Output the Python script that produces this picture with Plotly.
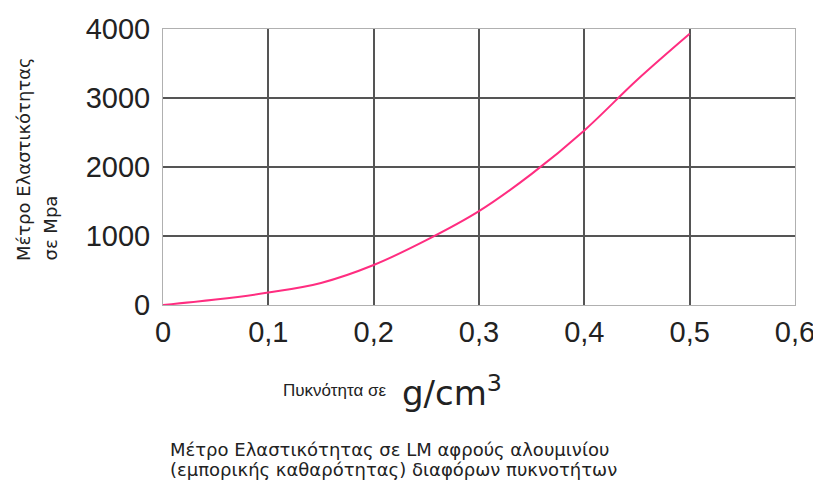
import plotly.graph_objects as go

density = [0, 0.05, 0.1, 0.15, 0.2, 0.25, 0.3, 0.35, 0.4, 0.45, 0.5]
modulus = [0, 80, 180, 320, 580, 940, 1360, 1900, 2530, 3260, 3930]

x_ticks = [0, 0.1, 0.2, 0.3, 0.4, 0.5, 0.6]
y_ticks = [0, 1000, 2000, 3000, 4000]

y_title_lines = ["Μέτρο Ελαστικότητας", "σε Mpa"]
x_title_text = "Πυκνότητα σε"
x_title_unit = "g/cm<sup>3</sup>"
caption_lines = ["Μέτρο Ελαστικότητας σε LM αφρούς αλουμινίου",
                 "(εμπορικής καθαρότητας) διαφόρων πυκνοτήτων"]

FONT = "Liberation Sans, Arial, sans-serif"
WIDE = "DejaVu Sans, sans-serif"

# The page body has an 8px margin; all reference pixel positions are shifted by it.
OFF = 8
PL, PR, PT, PB = 163, 795, 29, 305  # plot area in reference pixels
PW, PH = PR - PL, PB - PT


def px(x):
    return (x - PL) / PW


def py(y):
    return (PB - y) / PH


fig = go.Figure()
fig.add_trace(go.Scatter(
    x=density, y=modulus, mode="lines",
    line=dict(color="#ff2d80", width=2, shape="spline"),
    hoverinfo="skip", showlegend=False,
))

fig.update_layout(
    width=821 - OFF, height=486 - OFF,
    margin=dict(l=PL - OFF, r=821 - PR, t=PT - OFF, b=486 - PB, autoexpand=False),
    paper_bgcolor="white", plot_bgcolor="white",
    font=dict(family=FONT, color="#222"),
    xaxis=dict(
        range=[0, 0.6], tickvals=x_ticks,
        ticktext=[("%g" % v).replace(".", ",") for v in x_ticks],
        showgrid=True, gridcolor="#555555", gridwidth=2, zeroline=False,
        showline=True, linecolor="#b0b0b0", linewidth=1, mirror=True,
        ticks="", ticklabelstandoff=1, tickfont=dict(size=29, family=FONT, color="#222"),
    ),
    yaxis=dict(
        range=[0, 4000], tickvals=y_ticks,
        showgrid=True, gridcolor="#555555", gridwidth=2, zeroline=False,
        showline=True, linecolor="#b0b0b0", linewidth=1, mirror=True,
        ticks="", ticklabelstandoff=6, tickfont=dict(size=29, family=FONT, color="#222"),
    ),
    annotations=[
        dict(text=y_title_lines[0], textangle=-90,
             xref="paper", yref="paper", x=px(23), y=py(263), xanchor="center", yanchor="bottom",
             showarrow=False, font=dict(size=18, family=WIDE, color="#222")),
        dict(text=y_title_lines[1], textangle=-90,
             xref="paper", yref="paper", x=px(50), y=py(263), xanchor="center", yanchor="bottom",
             showarrow=False, font=dict(size=18, family=WIDE, color="#222")),
        dict(text=x_title_text,
             xref="paper", yref="paper", x=px(281), y=py(390),
             xanchor="left", yanchor="middle", showarrow=False,
             font=dict(size=17, family=FONT, color="#222")),
        dict(text=x_title_unit,
             xref="paper", yref="paper", x=px(400), y=py(391),
             xanchor="left", yanchor="middle", showarrow=False,
             font=dict(size=34, family=WIDE, color="#222")),
        dict(text=caption_lines[0],
             xref="paper", yref="paper", x=px(168), y=py(450),
             xanchor="left", yanchor="middle", showarrow=False,
             font=dict(size=18, family=WIDE, color="#222")),
        dict(text=caption_lines[1],
             xref="paper", yref="paper", x=px(168), y=py(469),
             xanchor="left", yanchor="middle", showarrow=False,
             font=dict(size=18, family=WIDE, color="#222")),
    ],
)

fig.write_html("out.html")
